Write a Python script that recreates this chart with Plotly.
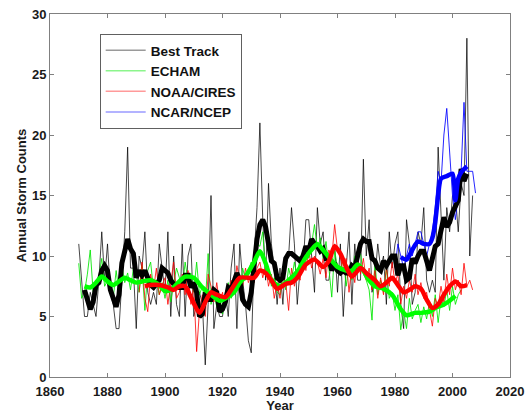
import plotly.graph_objects as go

# ---------------- data ----------------
best_years = list(range(1870, 2008))
best_track = [11, 8, 5, 5, 7, 6, 5, 8, 12, 8,
              11, 7, 6, 4, 4, 8, 12, 19, 9, 9,
              4, 10, 9, 12, 7, 6, 7, 6, 11, 9,
              7, 12, 5, 10, 6, 5, 11, 5, 10, 11,
              5, 6, 7, 6, 1, 6, 15, 4, 6, 5,
              5, 7, 5, 9, 11, 4, 11, 8, 6, 3,
              2, 10, 14, 21, 13, 8, 16, 11, 9, 6,
              9, 6, 10, 10, 14, 11, 6, 9, 9, 13,
              13, 10, 7, 14, 11, 12, 8, 8, 10, 11,
              7, 11, 5, 9, 12, 6, 11, 8, 8, 18,
              10, 13, 7, 8, 11, 9, 10, 6, 12, 9,
              11, 12, 6, 4, 13, 11, 6, 7, 12, 11,
              14, 8, 7, 8, 7, 19, 13, 8, 14, 12,
              15, 15, 12, 16, 15, 28, 10, 15]

best_smooth_years = list(range(1872, 2006))
best_smooth = [7.2, 6.2, 5.6, 6.2, 7.6, 7.8, 8.8, 9.2, 8.8, 7.2,
               6.4, 5.8, 6.8, 9.4, 10.4, 11.4, 10.6, 10.2, 8.2, 8.8,
               8.4, 8.8, 8.2, 7.6, 7.4, 7.8, 8.0, 9.0, 8.8, 8.6,
               8.0, 7.6, 7.4, 7.4, 7.4, 8.4, 8.4, 7.4, 7.8, 7.0,
               5.0, 5.2, 7.0, 6.4, 6.4, 7.2, 7.0, 5.4, 5.6, 6.2,
               7.4, 7.2, 8.0, 8.6, 8.0, 6.4, 6.0, 5.8, 7.0, 9.6,
               11.4, 12.6, 13.0, 12.4, 10.8, 9.6, 9.4, 8.2, 8.0, 8.2,
               9.8, 10.2, 10.2, 10.0, 9.8, 9.6, 10.0, 10.8, 10.4, 11.4,
               11.0, 10.8, 10.4, 10.6, 9.8, 9.8, 8.8, 9.4, 8.8, 8.6,
               8.8, 8.6, 8.6, 9.2, 9.0, 10.2, 11.0, 11.4, 11.2, 11.2,
               9.8, 9.6, 9.0, 8.8, 9.6, 9.2, 9.6, 10.0, 10.0, 8.4,
               9.2, 9.2, 8.0, 8.2, 9.8, 9.4, 10.0, 10.4, 10.4, 9.6,
               8.8, 9.8, 10.8, 11.0, 12.2, 13.2, 12.4, 12.8, 13.6, 14.0,
               14.6, 17.2, 16.2, 16.8]

echam_years = list(range(1870, 2004))
echam = [9.4, 6.5, 7.0, 8.5, 10.5, 7.0, 6.8, 8.5, 9.8, 7.5,
         8.0, 7.2, 6.5, 8.8, 7.0, 9.2, 7.8, 8.6, 7.2, 9.0,
         8.5, 7.0, 9.2, 5.5, 8.8, 9.5, 7.2, 8.0, 6.8, 7.8,
         6.5, 8.0, 6.2, 7.8, 9.0, 8.2, 7.2, 9.5, 8.0, 8.6,
         7.0, 9.5, 6.8, 7.5, 6.0, 10.2, 6.0, 7.0, 5.8, 6.8,
         5.2, 6.5, 7.8, 6.5, 7.0, 8.5, 7.2, 9.0, 8.0, 8.8,
         9.5, 8.5, 11.0, 10.8, 12.0, 8.5, 9.0, 7.5, 8.2, 7.0,
         6.8, 8.5, 7.2, 9.0, 8.0, 9.5, 8.2, 10.0, 9.2, 10.5,
         9.8, 11.0, 12.6, 10.5, 11.5, 9.8, 11.2, 9.0, 6.6, 10.5,
         9.0, 8.5, 10.0, 7.5, 9.2, 8.0, 10.0, 9.8, 10.2, 8.5,
         8.0, 7.2, 4.7, 9.5, 6.8, 8.0, 7.0, 9.0, 6.5, 7.0,
         5.5, 6.8, 3.9, 5.5, 4.0, 6.5, 4.8, 5.5, 6.0, 4.5,
         5.8, 4.8, 6.2, 5.0, 6.8, 4.5, 6.5, 5.8, 7.2, 5.5,
         7.5, 6.0, 6.8, 7.2]

echam_smooth_years = [1872, 1874, 1876, 1878, 1880, 1882, 1884, 1886, 1888, 1890,
                      1892, 1895, 1898, 1900, 1902, 1905, 1907, 1910, 1913, 1916,
                      1919, 1921, 1924, 1926, 1928, 1931, 1933, 1935, 1937, 1940,
                      1943, 1946, 1949, 1952, 1953, 1955, 1957, 1960, 1963, 1965,
                      1967, 1969, 1971, 1973, 1976, 1979, 1982, 1984, 1987, 1989,
                      1992, 1994, 1997, 1999, 2001]
echam_smooth = [7.5, 7.4, 7.8, 8.3, 7.9, 7.6, 7.9, 8.2, 8.0, 7.8,
                7.9, 8.0, 7.6, 7.1, 7.2, 7.9, 8.3, 8.2, 7.4, 6.8,
                6.3, 6.5, 7.0, 7.8, 8.3, 9.5, 10.4, 9.4, 8.0, 7.5,
                8.0, 8.7, 9.9, 10.8, 11.0, 10.5, 9.9, 9.1, 8.8, 8.8,
                9.3, 8.8, 8.0, 7.5, 7.3, 6.8, 5.6, 5.1, 5.3, 5.3,
                5.4, 5.7, 6.0, 6.3, 6.7]

noaa_years = list(range(1891, 2008))
noaa = [7.0, 9.5, 6.5, 5.4, 8.5, 7.2, 9.0, 6.8, 7.5,
        8.2, 6.0, 7.8, 9.5, 6.5, 7.0, 8.5, 6.8, 8.8, 6.0,
        7.5, 2.1, 5.5, 6.8, 5.0, 8.5, 7.5, 6.2, 7.8, 6.0,
        7.0, 5.8, 6.8, 8.0, 7.0, 9.2, 8.0, 7.5, 9.0, 7.8,
        8.5, 7.8, 9.0, 9.5, 8.2, 9.2, 7.5, 8.5, 6.5, 7.8,
        6.5, 8.5, 7.8, 5.5, 9.0, 7.5, 8.8, 8.0, 10.2, 8.8,
        10.5, 9.0, 10.0, 9.5, 8.5, 9.8, 8.2, 10.5, 9.8, 12.6,
        10.5, 10.0, 8.5, 9.8, 7.0, 9.2, 7.8, 10.0, 8.5, 9.8,
        8.0, 9.0, 7.2, 8.8, 6.5, 8.2, 6.8, 9.0, 7.5, 9.5,
        7.8, 8.5, 6.0, 7.5, 6.5, 8.0, 7.0, 8.5, 6.8, 7.8,
        6.5, 7.0, 5.5, 4.2, 6.5, 5.8, 7.5, 6.2, 8.5, 6.8,
        9.0, 7.2, 8.0, 6.8, 9.4, 7.5, 8.0, 7.2]

noaa_smooth_years = [1893, 1895, 1898, 1901, 1903, 1905, 1907, 1909, 1912, 1914,
                     1916, 1918, 1921, 1923, 1926, 1929, 1931, 1933, 1935, 1937,
                     1939, 1942, 1944, 1946, 1949, 1952, 1955, 1957, 1959, 1961,
                     1963, 1965, 1968, 1970, 1973, 1975, 1977, 1979, 1981, 1983,
                     1985, 1987, 1989, 1991, 1993, 1995, 1997, 1999, 2001, 2003,
                     2005]
noaa_smooth = [7.5, 7.6, 7.6, 7.4, 7.2, 7.5, 7.5, 6.6, 5.3, 6.2,
               7.0, 6.8, 6.6, 7.2, 8.2, 8.2, 8.2, 8.8, 8.6, 8.0,
               7.3, 7.7, 7.8, 8.2, 9.3, 9.7, 9.1, 9.6, 10.8, 10.2,
               9.1, 8.3, 9.0, 8.6, 8.0, 7.5, 7.8, 8.2, 7.6, 7.0,
               7.2, 7.5, 7.3, 6.4, 5.7, 6.0, 6.8, 7.5, 7.9, 7.5,
               7.6]

ncep_years = list(range(1980, 2009))
ncep = [9.0, 11.0, 10.0, 9.0, 10.0, 11.0, 10.0, 11.0, 12.0, 12.0,
        11.0, 10.0, 11.0, 12.0, 14.0, 17.0, 16.0, 20.0, 22.2, 19.0,
        15.0, 13.0, 15.0, 17.0, 22.7, 17.0, 17.0, 17.0, 15.2]

ncep_smooth_years = [1982, 1984, 1986, 1988, 1990, 1992, 1993, 1994, 1995, 1996,
                     1998, 2000, 2001, 2002, 2003, 2005]
ncep_smooth = [9.9, 9.7, 10.5, 11.2, 11.0, 11.0, 11.5, 12.8, 15.0, 16.4,
               16.6, 16.8, 14.6, 16.4, 16.9, 17.4]

x_ticks = [1860, 1880, 1900, 1920, 1940, 1960, 1980, 2000, 2020]
y_ticks = [0, 5, 10, 15, 20, 25, 30]

legend_names = ["Best Track", "ECHAM", "NOAA/CIRES", "NCAR/NCEP"]
legend_colors = ["#9a9a9a", "#8cf58c", "#ff9a9a", "#9a9aff"]

# ---------------- figure ----------------
fig = go.Figure()

thin = [
    (best_years, best_track, "rgba(0,0,0,0.72)"),
    (echam_years, echam, "rgba(0,230,0,0.85)"),
    (noaa_years, noaa, "rgba(255,0,0,0.8)"),
    (ncep_years, ncep, "rgba(0,0,255,0.85)"),
]
for xs, ys, col in thin:
    fig.add_trace(go.Scatter(x=xs, y=ys, mode="lines", showlegend=False,
                             line=dict(color=col, width=1), hoverinfo="skip"))

fig.add_trace(go.Scatter(x=best_smooth_years, y=best_smooth, mode="lines",
                         showlegend=False, line=dict(color="#000000", width=5)))
thick = [
    (echam_smooth_years, echam_smooth, "#00ff00"),
    (noaa_smooth_years, noaa_smooth, "#ff0000"),
    (ncep_smooth_years, ncep_smooth, "#0000ff"),
]
for xs, ys, col in thick:
    fig.add_trace(go.Scatter(x=xs, y=ys, mode="lines", showlegend=False,
                             line=dict(color=col, width=4.5, shape="spline",
                                       smoothing=0.7)))

for name, col in zip(legend_names, legend_colors):
    fig.add_trace(go.Scatter(x=[None], y=[None], mode="lines", name=name,
                             line=dict(color=col, width=1.5)))

FONT = "Liberation Sans, Arial, sans-serif"
axis_font = dict(family=FONT, size=13, color="#1a1a1a", weight="bold")

fig.update_layout(
    width=526, height=413,
    margin=dict(l=50, r=16, t=14, b=36, autoexpand=False),
    paper_bgcolor="white", plot_bgcolor="white",
    font=axis_font,
    legend=dict(x=0.108, y=0.945, xanchor="left", yanchor="top",
                bgcolor="white", bordercolor="#606060", borderwidth=1,
                font=dict(family=FONT, size=13.5, color="#111111",
                          weight="bold"),
                itemwidth=40, tracegroupgap=0),
    showlegend=True,
)
fig.update_xaxes(range=[1860, 2020], tickvals=x_ticks, ticks="inside",
                 ticklen=4, tickcolor="#808080", showline=True,
                 linecolor="#808080", linewidth=1, mirror="ticks",
                 showgrid=False, zeroline=False, tickfont=axis_font,
                 automargin=False, ticklabelstandoff=2,
                 title=dict(text="Year", font=axis_font, standoff=0))
fig.update_yaxes(range=[0, 30], tickvals=y_ticks, ticks="inside",
                 ticklen=4, tickcolor="#808080", showline=True,
                 linecolor="#808080", linewidth=1, mirror="ticks",
                 showgrid=False, zeroline=False, tickfont=axis_font,
                 automargin=False,
                 title=dict(text="Annual Storm Counts", font=axis_font,
                            standoff=2))

fig.write_html(
    "out.html",
    config={"displayModeBar": False},
    post_script="document.body.style.margin='0px';"
                "document.body.style.overflow='hidden';",
)
